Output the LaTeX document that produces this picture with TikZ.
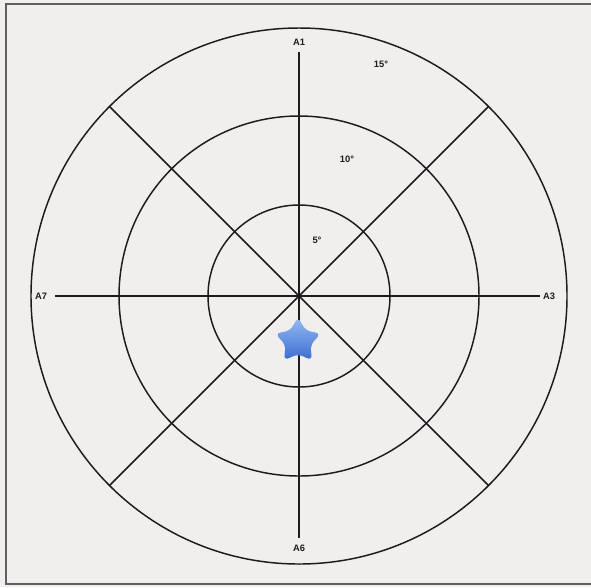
\documentclass[tikz,border=0pt]{standalone}
\usepackage{fontspec}
\setmainfont{Liberation Sans}
\usepackage{tikz}
\usetikzlibrary{shapes.geometric, positioning}
\definecolor{paperbg}{RGB}{241, 239, 237}
\definecolor{framegray}{RGB}{95, 95, 98}
\definecolor{inkline}{RGB}{28, 28, 30}
\definecolor{starlight}{RGB}{150, 188, 242}
\definecolor{stardark}{RGB}{58, 108, 208}

\begin{document}
\begin{tikzpicture}[x=0.75pt, y=-0.75pt,
    ring/.style={draw=inkline, line width=1.1pt},
    axisline/.style={draw=inkline, line width=1.1pt},
    lbl/.style={font=\fontsize{7}{8}\selectfont\bfseries, text=inkline, inner sep=1pt}]
    \useasboundingbox (0,0) rectangle (591,587);
    \clip (0,0) rectangle (591,587);
    \fill[paperbg] (0,0) rectangle (591,587);
    \draw[framegray, line width=1.5pt] (6,4) rectangle (600,584);

    % centre and rings
    \coordinate (c) at (299,296);
    \draw[ring] (c) circle[radius=268];
    \draw[ring] (c) circle[radius=180];
    \draw[ring] (c) circle[radius=91];

    % axis ends
    \coordinate (n) at (299,52);
    \coordinate (s) at (299,538);
    \coordinate (w) at (55,296);
    \coordinate (e) at (540,296);
    \coordinate (nw) at (109.5,106.5);
    \coordinate (se) at (488.5,485.5);
    \coordinate (ne) at (488.5,106.5);
    \coordinate (sw) at (109.5,485.5);

    \draw[axisline] (n) -- (s);
    \draw[axisline] (w) -- (e);
    \draw[axisline] (nw) -- (se);
    \draw[axisline] (ne) -- (sw);

    % labels
    \node[lbl] (A1) at (299,42) {A1};
    \node[lbl] (A3) at (549,296) {A3};
    \node[lbl] (A6) at (299,548) {A6};
    \node[lbl] (A7) at (41,296) {A7};
    \node[lbl] (deg15) at (381,64) {15°};
    \node[lbl] (deg10) at (347,159) {10°};
    \node[lbl] (deg5) at (317,240) {5°};

    % marker
    \node[star, star points=5, star point ratio=1.85, minimum size=36pt, inner sep=0pt,
          rounded corners=4pt, top color=starlight, bottom color=stardark] (mark) at (298,341) {};
\end{tikzpicture}
\end{document}
